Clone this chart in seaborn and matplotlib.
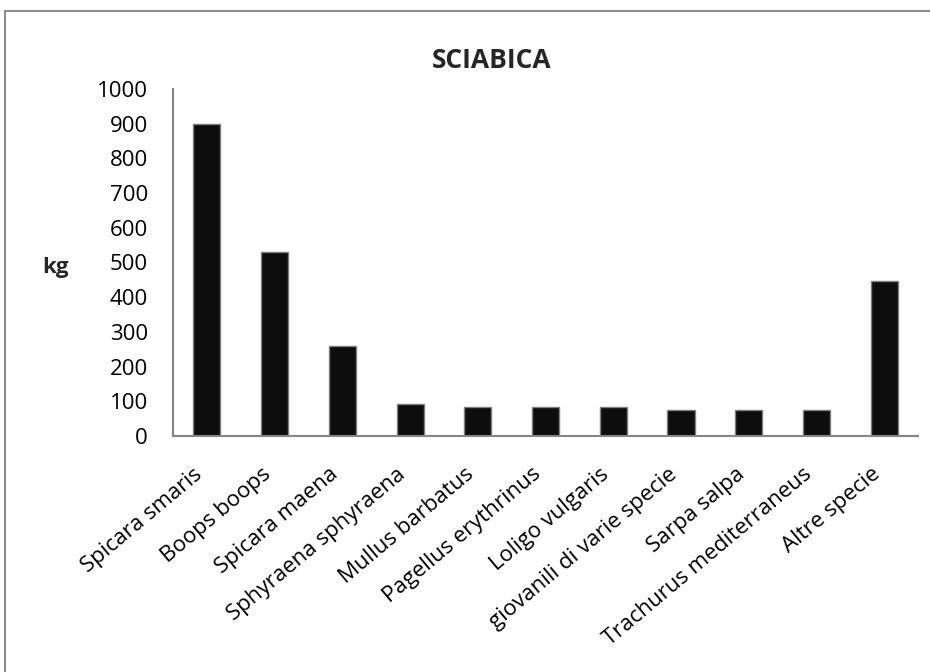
import matplotlib
matplotlib.use("Agg")
import matplotlib.pyplot as plt
import matplotlib.patches as mpatches
import seaborn as sns
import pandas as pd

species = ["Spicara smaris", "Boops boops", "Spicara maena", "Sphyraena sphyraena",
           "Mullus barbatus", "Pagellus erythrinus", "Loligo vulgaris",
           "giovanili di varie specie", "Sarpa salpa", "Trachurus mediterraneus",
           "Altre specie"]
kg = [900, 530, 258, 92, 84, 84, 84, 74, 74, 74, 446]
yticks = [0, 100, 200, 300, 400, 500, 600, 700, 800, 900, 1000]

sns.set_theme(style="white")
plt.rcParams['font.family'] = ['Open Sans', 'DejaVu Sans']

W, H = 930, 672
fig = plt.figure(figsize=(W / 100, H / 100), dpi=100)
ax = fig.add_axes([173 / W, 1 - 436 / H, (918 - 173) / W, (436 - 89) / H])

df = pd.DataFrame({"species": species, "kg": kg})
sns.barplot(data=df, x="species", y="kg", color="#0d0d0d", saturation=1,
            width=0.4, edgecolor="#7f7f7f", linewidth=1, ax=ax)

ax.set_xlim(-0.5, len(species) - 0.5)
ax.set_ylim(0, 1000)
ax.set_yticks(yticks)
ax.set_yticklabels([str(v) for v in yticks], fontsize=16)
ax.set_xticks(range(len(species)))
ax.set_xticklabels(species, rotation=40, ha="right", fontsize=16)
ax.tick_params(axis="y", length=0, pad=18, colors="black")
ax.tick_params(axis="x", length=0, pad=20, colors="black")
for s in ["top", "right"]:
    ax.spines[s].set_visible(False)
for s in ["left", "bottom"]:
    ax.spines[s].set_color("#868686")
    ax.spines[s].set_linewidth(1.5)
ax.set_xlabel("")
ax.set_ylabel("kg", rotation=0, fontsize=16, fontweight="bold", va="center", ha="center")
ax.yaxis.set_label_coords(-0.158, 0.487)

fig.text(492 / W, 1 - 60 / H, "SCIABICA", fontsize=19, fontweight="bold",
         ha="center", va="center")

frame = mpatches.Rectangle((5 / W, -0.1), 1.2, 1 - 11 / H + 0.1,
                           transform=fig.transFigure, fill=False,
                           edgecolor="#8c8c8c", linewidth=1.5)
fig.patches.append(frame)

fig.savefig("out.png", dpi=100)
